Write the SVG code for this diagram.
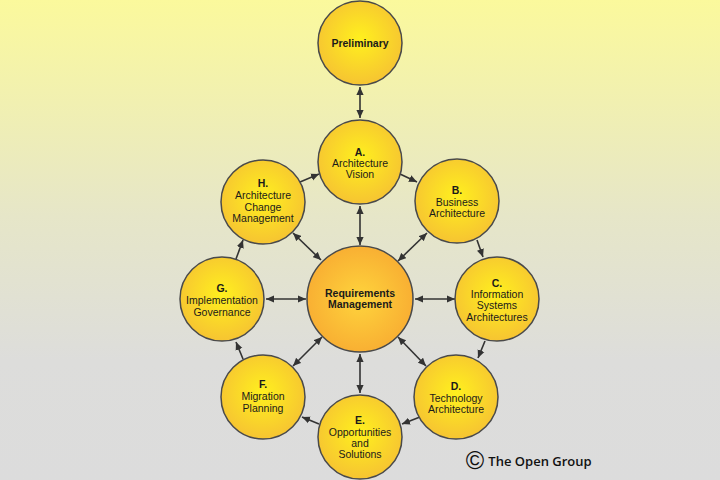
<svg xmlns="http://www.w3.org/2000/svg" width="720" height="480" viewBox="0 0 720 480">
<defs>
<linearGradient id="bg" x1="0" y1="0" x2="0" y2="1">
<stop offset="0" stop-color="#fbf99c"/>
<stop offset="0.45" stop-color="#e6e6c8"/>
<stop offset="0.75" stop-color="#dddddb"/>
<stop offset="1" stop-color="#dcdcdc"/>
</linearGradient>
<radialGradient id="yel" cx="0.5" cy="0.45" r="0.55">
<stop offset="0" stop-color="#fff01e"/>
<stop offset="1" stop-color="#f6c432"/>
</radialGradient>
<radialGradient id="org" cx="0.5" cy="0.5" r="0.55">
<stop offset="0" stop-color="#fed43c"/>
<stop offset="1" stop-color="#f8ac32"/>
</radialGradient>
<marker id="ah" viewBox="0 0 10 10" refX="10" refY="5" markerWidth="8" markerHeight="8" markerUnits="userSpaceOnUse" orient="auto-start-reverse">
<path d="M0,0.5 L10,5 L0,9.5 z" fill="#333"/>
</marker>
</defs>
<style>
.n{fill:url(#yel);stroke:#4a4a4a;stroke-width:1.5}
.r{fill:url(#org);stroke:#4a4a4a;stroke-width:1.5}
text{font-family:"Liberation Sans",Arial,sans-serif;font-size:10.5px;fill:#1a1a1a;text-anchor:middle}
.b{font-weight:bold}
.c line{stroke:#333;stroke-width:1.6}
.s{marker-end:url(#ah)}
.d{marker-start:url(#ah);marker-end:url(#ah)}
</style>
<rect width="720" height="480" fill="url(#bg)"/>
<g class="c">
<line class="d" x1="360" y1="87" x2="360" y2="118"/>
<line class="d" x1="360" y1="206" x2="360" y2="245"/>
<line class="d" x1="360" y1="354" x2="360" y2="393"/>
<line class="d" x1="415" y1="299" x2="455" y2="299"/>
<line class="d" x1="266" y1="299" x2="306" y2="299"/>
<line class="d" x1="398" y1="261" x2="427" y2="233"/>
<line class="d" x1="293" y1="233" x2="321" y2="260"/>
<line class="d" x1="293" y1="366" x2="322" y2="337"/>
<line class="d" x1="398" y1="337" x2="426" y2="366"/>
<line class="s" x1="400" y1="174" x2="417" y2="182"/>
<line class="s" x1="477" y1="240" x2="483" y2="257"/>
<line class="s" x1="485" y1="341" x2="478" y2="358"/>
<line class="s" x1="420" y1="417" x2="402" y2="424"/>
<line class="s" x1="319" y1="424" x2="302" y2="417"/>
<line class="s" x1="243" y1="359" x2="236" y2="342"/>
<line class="s" x1="236" y1="259" x2="243" y2="240"/>
<line class="s" x1="300" y1="182" x2="319" y2="174"/>
</g>
<g id="prelim">
<circle class="n" cx="360" cy="43" r="42"/>
<text class="b" x="360" y="47">Preliminary</text>
</g>
<g id="a">
<circle class="n" cx="360" cy="162" r="42"/>
<text class="b" x="360" y="156">A.</text>
<text x="360" y="167">Architecture</text>
<text x="360" y="178">Vision</text>
</g>
<g id="b">
<circle class="n" cx="457" cy="201" r="42"/>
<text class="b" x="457" y="194">B.</text>
<text x="457" y="206">Business</text>
<text x="457" y="217">Architecture</text>
</g>
<g id="c">
<circle class="n" cx="497" cy="299" r="42"/>
<text class="b" x="497" y="287">C.</text>
<text x="497" y="298">Information</text>
<text x="497" y="309">Systems</text>
<text x="497" y="321">Architectures</text>
</g>
<g id="d">
<circle class="n" cx="456" cy="397" r="42"/>
<text class="b" x="456" y="390">D.</text>
<text x="456" y="402">Technology</text>
<text x="456" y="413">Architecture</text>
</g>
<g id="e">
<circle class="n" cx="360" cy="437" r="42"/>
<text class="b" x="360" y="424">E.</text>
<text x="360" y="436">Opportunities</text>
<text x="360" y="447">and</text>
<text x="360" y="458">Solutions</text>
</g>
<g id="f">
<circle class="n" cx="263" cy="397" r="42"/>
<text class="b" x="263" y="388">F.</text>
<text x="263" y="400">Migration</text>
<text x="263" y="412">Planning</text>
</g>
<g id="g">
<circle class="n" cx="222" cy="299" r="42"/>
<text class="b" x="222" y="292">G.</text>
<text x="222" y="304">Implementation</text>
<text x="222" y="316">Governance</text>
</g>
<g id="h">
<circle class="n" cx="263" cy="202" r="42"/>
<text class="b" x="263" y="187">H.</text>
<text x="263" y="199">Architecture</text>
<text x="263" y="211">Change</text>
<text x="263" y="222">Management</text>
</g>
<g id="req">
<circle class="r" cx="360" cy="299" r="53"/>
<text class="b" x="360" y="297">Requirements</text>
<text class="b" x="360" y="308">Management</text>
</g>
<g id="copyright">
<text x="475" y="469" style="font-family:'Liberation Sans',sans-serif;font-size:25px;fill:#111">©</text>
<text x="540" y="466" style="font-family:'Open Sans',sans-serif;font-size:13px;font-weight:600;fill:#111">The Open Group</text>
</g>
</svg>
